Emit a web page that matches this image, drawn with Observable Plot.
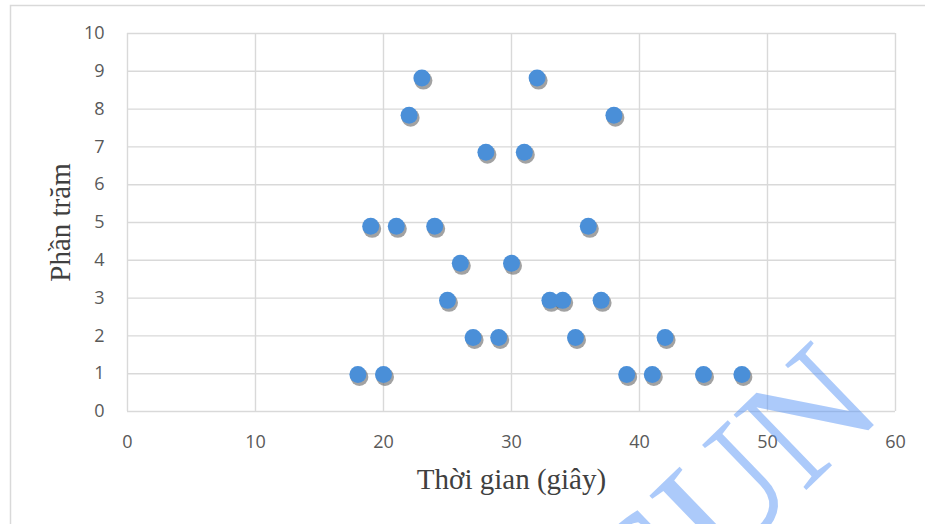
<!DOCTYPE html>
<html>
<head>
<meta charset="utf-8">
<script src="https://cdn.jsdelivr.net/npm/d3@7"></script>
<script src="https://cdn.jsdelivr.net/npm/@observablehq/plot@0.6"></script>
<style>
  html, body { margin: 0; padding: 0; background: #fff; }
  #chart { width: 925px; height: 524px; overflow: hidden; }
</style>
</head>
<body>
<div id="chart"></div>
<script>
// Thời gian (giây) của từng lần đo
const times = [18, 19, 20, 21, 22, 23, 24, 25, 26, 27, 28, 29, 30,
               31, 32, 33, 34, 35, 36, 37, 38, 39, 41, 42, 45, 48];
// Phần trăm tương ứng
const percents = [0.98, 4.90, 0.98, 4.90, 7.84, 8.82, 4.90, 2.94, 3.92, 1.96, 6.86, 1.96, 3.92,
                  6.86, 8.82, 2.94, 2.94, 1.96, 4.90, 2.94, 7.84, 0.98, 0.98, 1.96, 0.98, 0.98];
const xTicks = [0, 10, 20, 30, 40, 50, 60];
const yTicks = [0, 1, 2, 3, 4, 5, 6, 7, 8, 9, 10];
const xTitle = "Thời gian (giây)";
const yTitle = "Phần trăm";
const watermark = "SUN";

const points = times.map((t, i) => ({t, p: percents[i]}));

const serif = "'Liberation Serif', 'Times New Roman', serif";
const gridColor = "#d9d9d9";

const chart = Plot.plot({
  width: 925,
  height: 524,
  marginLeft: 127,
  marginRight: 30,
  marginTop: 33,
  marginBottom: 113,
  x: {domain: [0, 60]},
  y: {domain: [0, 10]},
  style: {background: "#fff", fontFamily: "'Open Sans', sans-serif", color: "#595959"},
  marks: [
    Plot.gridX(xTicks, {stroke: gridColor, strokeOpacity: 1, strokeWidth: 1.4}),
    Plot.gridY(yTicks, {stroke: gridColor, strokeOpacity: 1, strokeWidth: 1.4}),
    Plot.axisX(xTicks, {tickSize: 0, tickPadding: 24, fontSize: 18, label: null, fill: "#595959"}),
    Plot.axisY(yTicks, {tickSize: 0, tickPadding: 23, fontSize: 18, label: null, fill: "#595959"}),
    // marker shadows
    Plot.dot(points, {x: "t", y: "p", r: 9, fill: "#555", fillOpacity: 0.55, dx: 1.5, dy: 2.5, ariaLabel: "marker-shadow"}),
    // markers
    Plot.dot(points, {x: "t", y: "p", r: 8.5, fill: "#4a8fd8", ariaLabel: "marker"}),
    Plot.text([xTitle], {frameAnchor: "bottom", lineAnchor: "bottom", dy: 77, text: d => d,
      fontFamily: serif, fontSize: 29, fill: "#404040", ariaLabel: "x-title"}),
    Plot.text([yTitle], {frameAnchor: "left", textAnchor: "middle", lineAnchor: "bottom", dx: -58, rotate: -90,
      text: d => d, fontFamily: serif, fontSize: 29, fill: "#404040", ariaLabel: "y-title"})
  ]
});

document.getElementById("chart").appendChild(chart);

const svg = d3.select(chart);

// gradient for marker fill
const defs = svg.insert("defs", ":first-child");
const grad = defs.append("radialGradient").attr("id", "markerGrad")
  .attr("cx", "45%").attr("cy", "40%").attr("r", "60%");
grad.append("stop").attr("offset", "0%").attr("stop-color", "#5fa3e8");
grad.append("stop").attr("offset", "100%").attr("stop-color", "#3c82cc");
svg.selectAll("g[aria-label='marker'] circle").attr("fill", "url(#markerGrad)");
svg.select("g[aria-label='marker-shadow']").style("filter", "blur(1.6px)");

// smaller closing parenthesis in the x title
const xt = svg.select("g[aria-label='x-title'] text");
xt.text(xTitle.slice(0, -1));
xt.append("tspan").attr("font-size", 22).text(xTitle.slice(-1));

// outer chart-area border (left and top edges)
svg.append("path")
  .attr("d", "M10.5,524V5.5H925")
  .attr("fill", "none")
  .attr("stroke", gridColor)
  .attr("stroke-width", 1.5);

// watermark
svg.append("text")
  .attr("transform", "translate(886,413) rotate(-44)")
  .attr("text-anchor", "end")
  .attr("font-family", serif)
  .attr("font-size", 160)
  .attr("fill", "rgb(90,150,245)")
  .attr("fill-opacity", 0.5)
  .text(watermark);
</script>
</body>
</html>
